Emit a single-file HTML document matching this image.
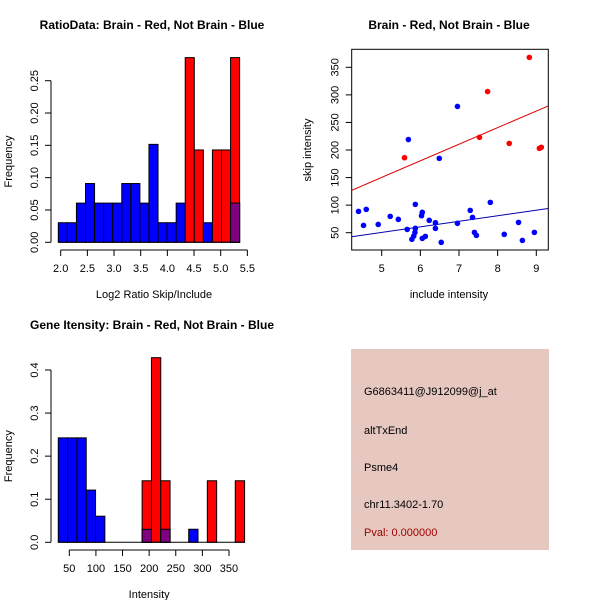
<!DOCTYPE html>
<html><head><meta charset="utf-8"><style>
html,body{margin:0;padding:0;background:#fff}
svg{display:block;font-family:"Liberation Sans",sans-serif}
</style></head><body>
<svg id="c" width="600" height="600" xmlns="http://www.w3.org/2000/svg">
<rect width="600" height="600" fill="#fff"/>
<text x="152" y="29" font-size="12" font-weight="bold" text-anchor="middle">RatioData: Brain - Red, Not Brain - Blue</text>
<text x="449" y="29" font-size="12" font-weight="bold" text-anchor="middle">Brain - Red, Not Brain - Blue</text>
<text x="152" y="329" font-size="12" font-weight="bold" text-anchor="middle">Gene Itensity: Brain - Red, Not Brain - Blue</text>
<g id="p1"></g>
<g id="p2"></g>
<g id="p3"></g>
<g>
<rect x="351" y="349" width="198" height="201" fill="#e6c8c1"/>
<text x="364" y="395" font-size="11">G6863411@J912099@j_at</text>
<text x="364" y="434" font-size="11">altTxEnd</text>
<text x="364" y="471" font-size="11">Psme4</text>
<text x="364" y="508" font-size="11">chr11.3402-1.70</text>
<text x="364" y="536" font-size="11" fill="#a00000">Pval: 0.000000</text>
</g>
</svg>
<script>
// Ratio histogram data
const h1Blue=[1,1,2,3,2,2,2,3,3,2,5,1,1,2,0,0,1,0,0,2].map(v=>v/33);
const h1Red=[0,0,0,0,0,0,0,0,0,0,0,0,0,0,2,1,0,1,1,2].map(v=>v/7);
const h1XTicks=[2.0,2.5,3.0,3.5,4.0,4.5,5.0,5.5];
const h1YTicks=[0,0.05,0.10,0.15,0.20,0.25];
// Intensity histogram data
const h3Blue=[8,8,8,4,2,0,0,0,0,1,0,1,0,0,1,0,0,0,0,0].map(v=>v/33);
const h3Red=[0,0,0,0,0,0,0,0,0,1,3,1,0,0,0,0,1,0,0,1].map(v=>v/7);
const h3XTicks=[50,100,150,200,250,300,350];
const h3YTicks=[0,0.1,0.2,0.3,0.4];
// Scatter data
const redX=[5.59,7.53,7.74,8.30,8.82,9.08,9.13];
const redY=[186,223,306,212,368,203,205];
const blueX=[4.40,4.53,4.60,4.91,5.22,5.43,5.66,5.69,5.78,5.83,5.86,5.87,5.87,6.03,6.05,6.05,6.13,6.23,6.39,6.39,6.49,6.54,6.96,6.96,7.29,7.35,7.40,7.45,7.81,8.17,8.54,8.64,8.95];
const blueY=[88.7,63.3,92.3,65,79.6,74.2,56,219,38,44,50.6,57.9,101.4,80.8,86.9,39.7,43.3,72.4,68.1,57.9,184.8,32.5,279,67,90.5,77.8,50.6,45.2,105,47,68.7,36,50.6];
const redLine=[4.22,126.8,9.31,280];
const blueLine=[4.22,42.7,9.31,94];
const spXTicks=[5,6,7,8,9];
const spYTicks=[50,100,150,200,250,300,350];

const NS="http://www.w3.org/2000/svg";
function mk(par,tag,attrs){const e=document.createElementNS(NS,tag);for(const k in attrs)e.setAttribute(k,attrs[k]);par.appendChild(e);return e;}
function txt(par,x,y,s,size,rot,anchor){const t=mk(par,'text',{x:x,y:y,'font-size':size,'text-anchor':anchor||'middle'});if(rot)t.setAttribute('transform','rotate(-90 '+x+' '+y+')');t.textContent=s;return t;}

function hist(g,blue,red,x0,bw,sx,sy,xTicks,yTicks,fmtY,xl,yl,axX,axY,yAxisTop,xLab,xLabY,fmtX){
  const X=v=>sx(v), Y=v=>sy(v);
  for(let i=0;i<blue.length;i++){
    const l=X(x0+i*bw), r=X(x0+(i+1)*bw);
    const b=blue[i], rd=red[i];
    if(b>0){const e=mk(g,'rect',{x:l,y:Y(b),width:r-l,height:Y(0)-Y(b),fill:'#0000ff',stroke:'#000','stroke-width':1});
      }
    if(rd>0){const e=mk(g,'rect',{x:l,y:Y(rd),width:r-l,height:Y(0)-Y(rd),fill:'#ff0000',stroke:'#000','stroke-width':1});
      }
    if(b>0&&rd>0){const m=Math.min(b,rd);const e=mk(g,'rect',{x:l,y:Y(m),width:r-l,height:Y(0)-Y(m),fill:'#7f007f',stroke:'#000','stroke-width':1});
      }
  }
  mk(g,'line',{x1:X(x0),x2:X(x0+bw*blue.length),y1:Y(0),y2:Y(0),stroke:'#000'});
  // x axis
  mk(g,'line',{x1:X(xTicks[0]),x2:X(xTicks[xTicks.length-1]),y1:axY,y2:axY,stroke:'#000'});
  xTicks.forEach(t=>{mk(g,'line',{x1:X(t),x2:X(t),y1:axY,y2:axY+6,stroke:'#000'});const e=txt(g,X(t),axY+22,fmtX(t),11);});
  mk(g,'line',{x1:axX,x2:axX,y1:Y(yTicks[0]),y2:Y(yTicks[yTicks.length-1]),stroke:'#000'});
  yTicks.forEach(t=>{mk(g,'line',{x1:axX,x2:axX-6,y1:Y(t),y2:Y(t),stroke:'#000'});const e=txt(g,axX-13,Y(t),fmtY(t),11,true);});
  const xt=txt(g,(X(xTicks[0])+X(xTicks[xTicks.length-1]))/2,xLabY,xl,11);
  const yt=txt(g,12,(Y(yTicks[0])+Y(yTicks[yTicks.length-1]))/2,yl,11,true);
}
// panel 1
hist(document.getElementById('p1'),h1Blue,h1Red,1.955,0.17,
 v=>60.7+(v-2)*53.33, v=>242.3-v*646.4, h1XTicks,h1YTicks,t=>t.toFixed(2),
 'Log2 Ratio Skip/Include','Frequency',51,250,0,0,298,t=>t.toFixed(1));
// panel 3
hist(document.getElementById('p3'),h3Blue,h3Red,29.3,17.5,
 v=>69.3+(v-50)*0.5323, v=>542.3-v*430.8, h3XTicks,h3YTicks,t=>t.toFixed(1),
 'Intensity','Frequency',51,550,0,0,598,t=>String(t));

// scatter
(function(){
  const g=document.getElementById('p2');
  const X=v=>381.7+(v-5)*38.65, Y=v=>232.7-(v-50)*0.5513;
  mk(g,'rect',{x:351.7,y:49.3,width:196.6,height:200.7,fill:'none',stroke:'#000'});
  const cp=mk(g,'clipPath',{id:'spc'});mk(cp,'rect',{x:351.7,y:49.3,width:196.6,height:200.7});
  const l1=mk(g,'line',{x1:X(redLine[0]),y1:Y(redLine[1]),x2:X(redLine[2]),y2:Y(redLine[3]),stroke:'#dd0000','clip-path':'url(#spc)'});
  
  const l2=mk(g,'line',{x1:X(blueLine[0]),y1:Y(blueLine[1]),x2:X(blueLine[2]),y2:Y(blueLine[3]),stroke:'#0000aa','clip-path':'url(#spc)'});
  
  blueX.forEach((x,i)=>{const c=mk(g,'circle',{cx:X(x),cy:Y(blueY[i]),r:2.8,fill:'#0000ff'});
    });
  redX.forEach((x,i)=>{const c=mk(g,'circle',{cx:X(x),cy:Y(redY[i]),r:2.8,fill:'#ff0000'});
    });
  spXTicks.forEach(t=>{mk(g,'line',{x1:X(t),x2:X(t),y1:250,y2:256,stroke:'#000'});const e=txt(g,X(t),272,String(t),11);});
  spYTicks.forEach(t=>{mk(g,'line',{x1:351.7,x2:345.7,y1:Y(t),y2:Y(t),stroke:'#000'});const e=txt(g,338.5,Y(t),String(t),11,true);});
  const xt=txt(g,449,298,'include intensity',11);
  const yt=txt(g,311,150,'skip intensity',11,true);
})();
</script>
</body></html>
